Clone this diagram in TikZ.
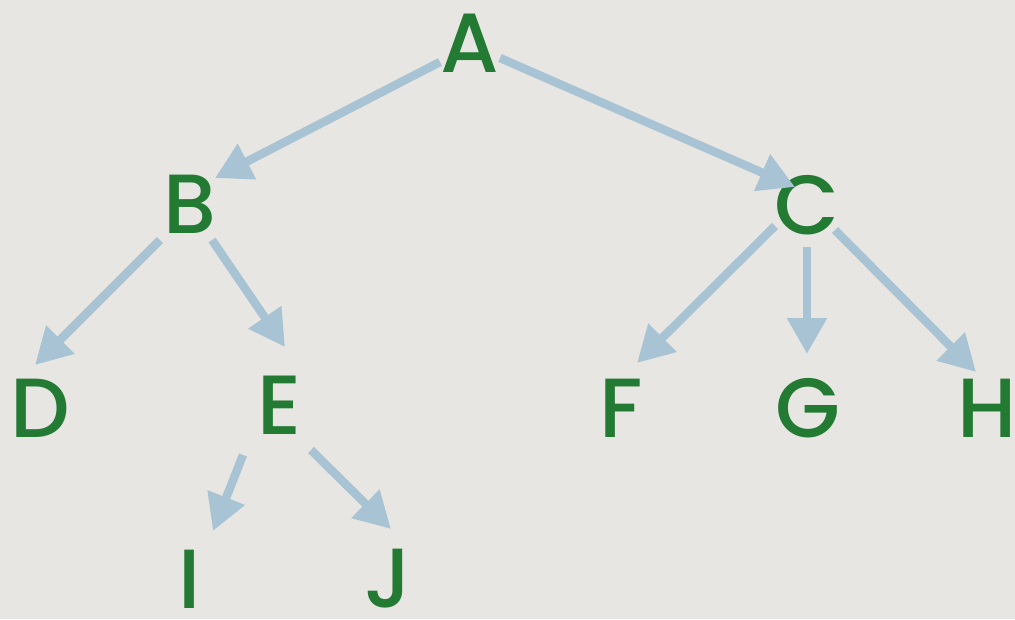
\documentclass[tikz,border=0pt]{standalone}
\usepackage{fontspec}
\setmainfont{Poppins}[UprightFont=* Medium]
\usetikzlibrary{arrows.meta}
\definecolor{bg}{HTML}{E8E6E2}
\definecolor{letter}{HTML}{237A33}
\definecolor{arrowc}{HTML}{A8C4D4}
\tikzset{
  lbl/.style={inner sep=0pt, text=letter, font=\fontsize{84}{84}\selectfont},
  arr/.style={draw=arrowc, line width=8.5pt, -{Triangle[length=36pt,width=38pt]}}
}
\begin{document}
\begin{tikzpicture}[x=1pt,y=-1pt]
\fill[bg] (0,0) rectangle (1015,619);
\useasboundingbox (0,0) rectangle (1015,619);
\node[lbl] (A) at (470,43) {A};
\node[lbl] (B) at (190,204) {B};
\node[lbl] (C) at (807,205) {C};
\node[lbl] (D) at (40,408) {D};
\node[lbl] (E) at (280,405) {E};
\node[lbl] (F) at (621,408) {F};
\node[lbl] (G) at (808,408) {G};
\node[lbl] (H) at (987,408) {H};
\node[lbl] (I) at (190,579) {I};
\node[lbl] (J) at (388,579) {J};
\draw[arr] ([shift={(-30,19)}]A.center) -- ([shift={(25,-26)}]B.center);
\draw[arr] ([shift={(30,15)}]A.center) -- ([shift={(-12,-18)}]C.center);
\draw[arr] ([shift={(-30,36)}]B.center) -- ([shift={(-5,-43)}]D.center);
\draw[arr] ([shift={(22,36)}]B.center) -- ([shift={(5,-58)}]E.center);
\draw[arr] ([shift={(-32,21)}]C.center) -- ([shift={(16,-45)}]F.center);
\draw[arr] ([shift={(0,42)}]C.center) -- ([shift={(-1,-54)}]G.center);
\draw[arr] ([shift={(28,25)}]C.center) -- ([shift={(-11,-36)}]H.center);
\draw[arr] ([shift={(-37,50)}]E.center) -- ([shift={(23,-48)}]I.center);
\draw[arr] ([shift={(31,45)}]E.center) -- ([shift={(3,-50)}]J.center);
\end{tikzpicture}
\end{document}
